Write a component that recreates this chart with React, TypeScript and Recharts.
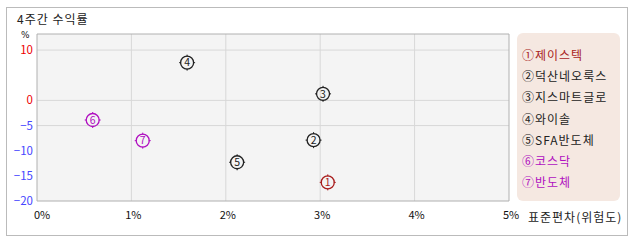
import React from "react";
import {
  ScatterChart,
  Scatter,
  XAxis,
  YAxis,
  CartesianGrid,
  ReferenceArea,
} from "recharts";

// ---- data ----
const names = ["제이스텍", "덕산네오룩스", "지스마트글로", "와이솔", "SFA반도체", "코스닥", "반도체"];
const marks = ["①", "②", "③", "④", "⑤", "⑥", "⑦"];
const digits = ["1", "2", "3", "4", "5", "6", "7"];
const stdDev = [3.08, 2.93, 3.03, 1.59, 2.12, 0.59, 1.12];
const returns = [-16.3, -7.9, 1.3, 7.5, -12.3, -3.9, -8.0];
const xTicks = [0, 1, 2, 3, 4, 5];
const yTicks = [10, 0, -5, -10, -15, -20];
const yGrid = [10, 0, -5];
const xGrid = [1, 2, 3, 4];

// ---- styles ----
const RED = "#a81c1c";
const PURPLE = "#b010c0";
const DARK = "#222222";
const colors = [RED, DARK, DARK, DARK, DARK, PURPLE, PURPLE];
const FONT = "'Noto Sans CJK KR', 'DejaVu Sans', sans-serif";

const data = names.map((n, i) => ({ name: n, x: stdDev[i], y: returns[i], idx: i }));

const Marker = (props: any) => {
  const { cx, cy, payload } = props;
  if (cx == null || cy == null) return null;
  const c = colors[payload.idx];
  const r = 6.5;
  return (
    <g>
      <circle cx={cx} cy={cy} r={r} fill="none" stroke={c} strokeWidth={1.3} />
      <line x1={cx} y1={cy - r - 1.5} x2={cx} y2={cy - r + 0.5} stroke={c} strokeWidth={1} />
      <line x1={cx} y1={cy + r - 0.5} x2={cx} y2={cy + r + 1.5} stroke={c} strokeWidth={1} />
      <line x1={cx - r - 1.5} y1={cy} x2={cx - r + 0.5} y2={cy} stroke={c} strokeWidth={1} />
      <line x1={cx + r - 0.5} y1={cy} x2={cx + r + 1.5} y2={cy} stroke={c} strokeWidth={1} />
      <text
        x={cx}
        y={cy + 3.8}
        textAnchor="middle"
        fontSize={10.5}
        fontFamily={FONT}
        fill={c}
      >
        {digits[payload.idx]}
      </text>
    </g>
  );
};

const XTick = (props: any) => {
  const { x, y, payload } = props;
  const v = payload.value;
  return (
    <text
      x={x + (v === 0 ? 5 : 2)}
      y={y}
      dy={10}
      textAnchor="middle"
      fontSize={11}
      fontFamily={FONT}
      fill="#111"
    >
      {v + "%"}
    </text>
  );
};

const YTick = (props: any) => {
  const { x, y, payload } = props;
  const v = payload.value;
  return (
    <text
      x={x}
      y={y}
      dy={4}
      textAnchor="end"
      fontSize={11.5}
      fontFamily={FONT}
      fill={v >= 0 ? "#ee0000" : "#4646ff"}
    >
      {v < 0 ? "\u2212" + Math.abs(v) : String(v)}
    </text>
  );
};

export default function App() {
  return (
    <div
      style={{
        position: "absolute",
        left: 0,
        top: 0,
        width: 638,
        height: 242,
        background: "#fff",
        fontFamily: FONT,
      }}
    >
      <div
        style={{
          position: "absolute",
          left: 6,
          top: 7,
          width: 620,
          height: 227,
          border: "1px solid #bbbbbb",
        }}
      />
      <div
        style={{
          position: "absolute",
          left: 17,
          top: 12,
          fontSize: 12,
          lineHeight: "14px",
          letterSpacing: 1,
          color: "#222",
        }}
      >
        4주간 수익률
      </div>
      <div
        style={{
          position: "absolute",
          left: 21,
          top: 30,
          fontSize: 9,
          lineHeight: "10px",
          fontFamily: "'DejaVu Sans', sans-serif",
          color: "#222",
        }}
      >
        %
      </div>
      <div style={{ position: "absolute", left: 0, top: 0 }}>
        <ScatterChart
          width={638}
          height={242}
          margin={{ top: 34, right: 129, bottom: 0, left: 0 }}
        >
          <CartesianGrid
            fill="#f4f4f4"
            stroke="#d8d8d8"
            strokeWidth={1}
            horizontalValues={yGrid}
            verticalValues={xGrid}
          />
          <XAxis
            type="number"
            dataKey="x"
            domain={[0, 5]}
            ticks={xTicks}
            height={41}
            tickLine={false}
            axisLine={false}
            tickSize={0}
            tickMargin={8}
            tick={<XTick />}
            interval={0}
          />
          <YAxis
            type="number"
            dataKey="y"
            domain={[-20, 13.2]}
            ticks={yTicks}
            width={37}
            tickLine={false}
            axisLine={false}
            tickSize={0}
            tickMargin={4}
            tick={<YTick />}
            interval={0}
          />
          <ReferenceArea
            x1={0}
            x2={5}
            y1={-20}
            y2={13.2}
            fill="none"
            stroke="#b0b0b0"
            strokeWidth={1}
            ifOverflow="visible"
          />
          <Scatter data={data} shape={<Marker />} isAnimationActive={false} />
        </ScatterChart>
      </div>
      <div
        style={{
          position: "absolute",
          left: 528,
          top: 209,
          fontSize: 12,
          lineHeight: "16px",
          letterSpacing: 1,
          color: "#222",
          whiteSpace: "nowrap",
        }}
      >
        표준편차(위험도)
      </div>
      <div
        style={{
          position: "absolute",
          left: 517,
          top: 33,
          width: 103,
          height: 168,
          background: "#f5e8e1",
          borderRadius: 6,
        }}
      >
        <div style={{ position: "absolute", left: 5, top: 11 }}>
          {names.map((n, i) => (
            <div
              key={n}
              style={{
                fontSize: 12,
                lineHeight: "21.2px",
                letterSpacing: 1,
                color: colors[i],
                whiteSpace: "nowrap",
              }}
            >
              {marks[i] + n}
            </div>
          ))}
        </div>
      </div>
    </div>
  );
}
